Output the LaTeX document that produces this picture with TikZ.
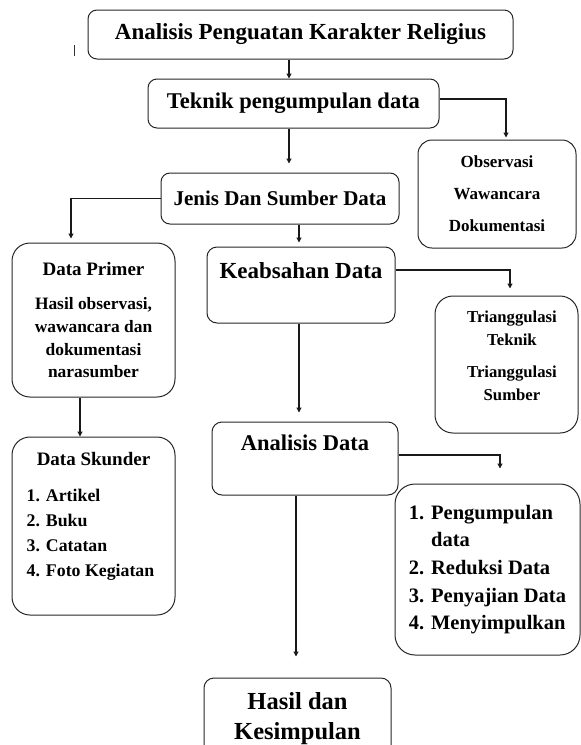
\documentclass[tikz,border=0pt]{standalone}
\usepackage{fontspec}
\setmainfont{Liberation Serif}
\usetikzlibrary{arrows.meta}
\newcommand{\ukuran}[2]{\fontsize{#1}{#2}\selectfont\bfseries}
\begin{document}
\begin{tikzpicture}[x=1pt, y=-1pt,
    kotak/.style={draw=black!85, line width=1pt, rounded corners=#1, inner sep=0pt},
    kotak/.default=9pt,
    panah/.style={draw=black!90, line width=1.1pt, -{Triangle[width=5pt,length=5pt]}}]
    \useasboundingbox (0,0) rectangle (581,745);
    \clip (0,0) rectangle (581,745);
    % kotak utama
    \node[kotak, minimum width=425pt, minimum height=49pt, font=\ukuran{23}{28}] (judul) at (300.5,34.5) {Analisis Penguatan Karakter Religius};
    \node[kotak, minimum width=291pt, minimum height=49pt, font=\ukuran{22.5}{27}] (teknik) at (293.5,103.5) {Teknik pengumpulan data};
    \node[kotak=14pt, minimum width=158pt, minimum height=108pt, align=center, font=\ukuran{17}{32}] (obs) at (497,194) {Observasi\\Wawancara\\Dokumentasi};
    \node[kotak, minimum width=238pt, minimum height=51pt, font=\ukuran{21}{25}] (jenis) at (280,198.5) {Jenis Dan Sumber Data};
    \node[kotak=18pt, minimum width=163pt, minimum height=154pt, align=center, font=\ukuran{17.4}{22.7}] (primer) at (93.5,320) {{\fontsize{19}{22.7}\selectfont Data Primer}\\[12pt]Hasil observasi,\\wawancara dan\\dokumentasi\\narasumber};
    \node[kotak=10pt, minimum width=188pt, minimum height=76pt] (keab) at (301,285) {};
    \node[font=\ukuran{23}{27}, inner sep=0pt] (keab-teks) at ([yshift=-24pt]keab.north) {Keabsahan Data};
    \node[kotak=18pt, minimum width=143pt, minimum height=137pt] (tri) at (506.5,364.5) {};
    \node[align=center, font=\ukuran{16.7}{22.5}, inner sep=0pt] (tri-teks) at ([xshift=5.5pt,yshift=8.5pt]tri.center) {Trianggulasi\\Teknik\\[10pt]Trianggulasi\\Sumber};
    \node[kotak=18pt, minimum width=163pt, minimum height=178pt] (skunder) at (93.5,526) {};
    \node[font=\ukuran{19}{23}, inner sep=0pt] (skunder-teks) at ([yshift=-23pt]skunder.north) {Data Skunder};
    \node[anchor=north west, align=left, font=\ukuran{17.8}{25}, inner sep=0pt] (skunder-isi) at ([xshift=15pt,yshift=-52pt]skunder.north west) {1. Artikel\\2. Buku\\3. Catatan\\4. Foto Kegiatan};
    \node[kotak=10pt, minimum width=186pt, minimum height=73pt] (analisis) at (305,458.5) {};
    \node[font=\ukuran{22.5}{27}, inner sep=0pt] (analisis-teks) at ([yshift=-21pt]analisis.north) {Analisis Data};
    \node[kotak=20pt, minimum width=185pt, minimum height=171pt, align=left, font=\ukuran{20.5}{27.7}] (proses) at (487.5,569.5) {1. Pengumpulan\\\phantom{1. }data\\2. Reduksi Data\\3. Penyajian Data\\4. Menyimpulkan};
    \node[kotak=10pt, minimum width=187pt, minimum height=82pt, align=center, font=\ukuran{24.5}{30}] (hasil) at (297.5,719) {Hasil dan\\Kesimpulan};
    % panah
    \draw[panah] ([xshift=-4.5pt]teknik.north |- judul.south) -- ([xshift=-4.5pt]teknik.north);
    \draw[panah, shorten >=9pt] ([xshift=-4.5pt]teknik.south) -- ([xshift=-4.5pt]teknik.south |- jenis.north);
    \draw[panah, shorten >=2pt] ([yshift=4.5pt]teknik.east) -| ([xshift=9pt]obs.north);
    \draw[panah, shorten >=4pt] (jenis.west) -| ([xshift=-22.5pt]primer.north);
    \draw[panah, shorten >=4pt] ([xshift=19pt]jenis.south) -- ([xshift=19pt]jenis.south |- keab.north);
    \draw[panah, shorten >=7pt] ([yshift=15pt]keab.east) -| ([xshift=3.5pt]tri.north);
    \draw[panah, shorten >=9pt] ([xshift=-2pt]keab.south) -- ([xshift=-2pt]keab.south |- analisis.north);
    \draw[panah] ([xshift=-13.5pt]primer.south) -- ([xshift=-13.5pt]skunder.north);
    \draw[panah, shorten >=15pt] ([yshift=3.5pt]analisis.east) -| ([xshift=12.5pt]proses.north);
    \draw[panah, shorten >=21pt] ([xshift=-9pt]analisis.south) -- ([xshift=-9pt]analisis.south |- hasil.north);
    % tanda kursor
    \draw[line width=0.8pt, black!80] (74,45) -- (74,56);
\end{tikzpicture}
\end{document}
